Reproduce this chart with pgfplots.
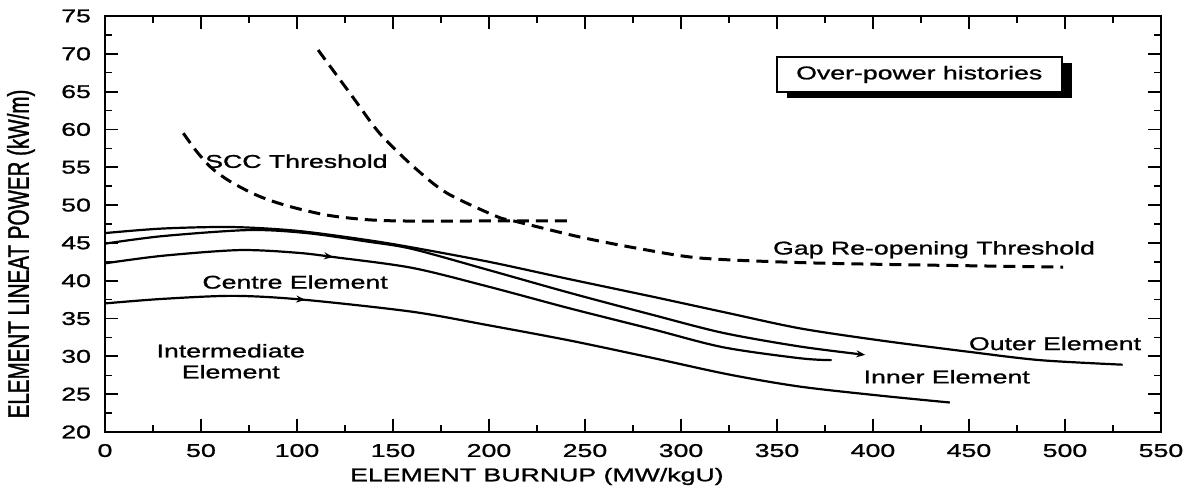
\documentclass[border=0pt]{standalone}
\usepackage{fontspec}
\setmainfont{Liberation Sans}[FakeStretch=1.45,FakeBold=1.2]
\newfontfamily\ylabfont{Liberation Sans}[FakeStretch=0.69,FakeBold=1.2]
\usepackage{pgfplots}
\pgfplotsset{compat=1.18}
\usetikzlibrary{shadows,decorations.markings,arrows.meta}
\newcommand{\f}{\fontsize{9.2bp}{10.5bp}\selectfont}
\begin{document}
\begin{tikzpicture}
\begin{axis}[
  at={(0,0)}, anchor=south west,
  scale only axis, width=528bp, height=208bp,
  xmin=0, xmax=550, ymin=20, ymax=75,
  xtick={0,50,...,550}, ytick={20,25,...,75},
  minor x tick num=1, minor y tick num=1,
  major tick length=6.5bp, minor tick length=3.5bp,
  axis line style={line width=1.1bp},
  major tick style={black, line width=0.9bp},
  minor tick style={black, line width=0.7bp},
  tick label style={font=\f},
  /pgf/number format/assume math mode=true,
  xticklabel style={yshift=-2.5bp},
  yticklabel style={xshift=-3.5bp},
  xlabel={ELEMENT BURNUP (MW/kgU)},
  xlabel style={at={(axis description cs:0.409,-0.107)}, anchor=center, font=\f},
  ylabel={\ylabfont\fontsize{14.9bp}{16bp}\selectfont ELEMENT LINEAT POWER (kW/m)},
  ylabel style={at={(axis description cs:-0.0795,0.428)}, anchor=center},
]
% Outer element
\addplot[line width=1.1bp, smooth] coordinates {
(0,46.3)(30,46.9)(66,47.1)(100,46.6)(136,45.4)(160,44.4)(200,42.5)(242,40.2)(285,37.9)(325,35.7)(362,33.7)(404,32.1)(450,30.6)(487,29.5)(530,28.9)};
% Inner element
\addplot[line width=1.1bp, smooth, -{Stealth[length=4.5bp,width=3.5bp]}] coordinates {
(0,44.9)(30,45.9)(75,46.7)(105,46.3)(136,45.2)(160,44.2)(200,41.4)(242,38.4)(285,35.5)(322,33.1)(362,31.3)(396,30.2)};
% Centre element
\addplot[line width=1.1bp, smooth, postaction={decorate},
  decoration={markings, mark=at position 0.31 with {\arrow{Stealth[length=4.5bp,width=3.5bp]}}}] coordinates {
(0,42.3)(30,43.3)(70,44.05)(100,43.7)(120,43.1)(160,41.7)(200,39.2)(242,36.35)(285,33.6)(322,31.2)(362,29.75)(378.5,29.5)};
% Intermediate element
\addplot[line width=1.1bp, smooth, postaction={decorate},
  decoration={markings, mark=at position 0.235 with {\arrow{Stealth[length=4.5bp,width=3.5bp]}}}] coordinates {
(0,37.0)(30,37.6)(67,38.0)(103,37.5)(160,35.9)(200,34.1)(242,32.1)(285,29.8)(325,27.6)(362,26.0)(404,24.8)(440,23.9)};
% SCC threshold
\addplot[line width=1.5bp, smooth, dash pattern=on 6bp off 3.5bp] coordinates {
(40.8,59.5)(48,57.0)(56,54.8)(66,53.0)(80,51.2)(95,49.9)(115,48.7)(135,48.1)(155,47.9)(200,47.9)(242,47.9)};
% Gap re-opening threshold
\addplot[line width=1.5bp, smooth, dash pattern=on 6bp off 3.5bp] coordinates {
(111,70.5)(129,64.3)(143,59.5)(160.6,55.1)(178,51.6)(204,48.5)(213,47.9)(247,45.8)(277,44.3)(310,43.0)(362,42.4)(420,42.1)(499,41.8)};
\node[font=\f] at (axis cs:99.7,55.8) {SCC Threshold};
\node[font=\f] at (axis cs:99,39.83) {Centre Element};
\node[font=\f, align=center] at (axis cs:65.5,29.35) {Intermediate\\Element};
\node[font=\f] at (axis cs:431.8,44.1) {Gap Re-opening Threshold};
\node[font=\f] at (axis cs:494.8,31.7) {Outer Element};
\node[font=\f] at (axis cs:438.4,27.3) {Inner Element};
\node[draw, line width=0.9bp, fill=white, font=\f, minimum width=142.5bp, minimum height=17.2bp, inner sep=0pt,
  drop shadow={shadow xshift=5bp, shadow yshift=-3bp, fill=black, opacity=1}] at (axis cs:424.1,67.26) {Over-power histories};
\end{axis}
\pgfresetboundingbox
\path[use as bounding box] (-52.5bp,-27bp) rectangle (543.5bp,216bp);
\end{tikzpicture}
\end{document}
